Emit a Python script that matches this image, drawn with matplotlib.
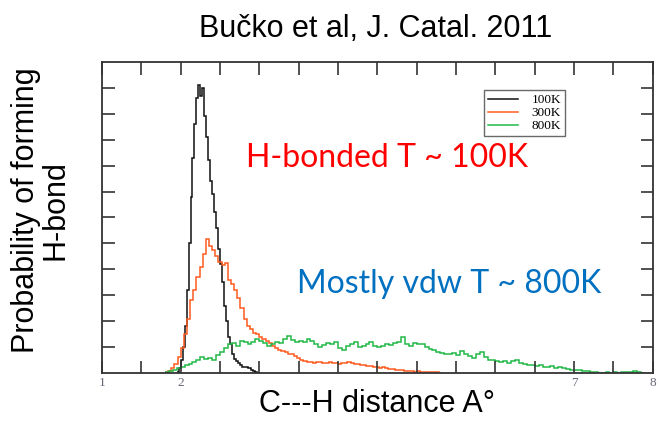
import numpy as np
import matplotlib.pyplot as plt

# C---H distance histograms (y in tick units)
black_start, black_w = 1.95, 0.025
black_vals = [0.05, 0.2, 0.5, 1.0, 1.8, 3.2, 5.0, 6.8, 8.3, 9.6, 10.6, 11.1,
              10.7, 11.0, 9.9, 9.1, 8.2, 7.4, 6.9, 6.2, 5.6, 4.8, 4.2, 3.5,
              2.6, 2.0, 1.4, 1.1, 0.75, 0.55, 0.45, 0.38, 0.3, 0.25, 0.22,
              0.25, 0.18, 0.2, 0.12, 0.08, 0.04, 0.0]

orange_start, orange_w = 1.80, 0.04
orange_vals = [0.02, 0.08, 0.2, 0.35, 0.6, 0.95, 1.5, 2.1, 2.8, 3.2, 3.7, 4.1,
               4.6, 5.15, 4.9, 4.75, 4.5, 4.3, 4.15, 4.25, 3.6, 3.45, 3.2, 2.9,
               2.5, 2.1, 1.8, 1.7, 1.55, 1.5, 1.4, 1.3, 1.25, 1.15, 1.05, 0.95,
               0.9, 0.85, 0.8, 0.75, 0.72, 0.65, 0.58, 0.5, 0.46, 0.42, 0.44,
               0.4, 0.43, 0.41, 0.38, 0.4, 0.42, 0.37, 0.39, 0.36, 0.4, 0.38,
               0.42, 0.37, 0.33, 0.35, 0.3, 0.32, 0.28, 0.26, 0.24, 0.25, 0.2,
               0.22, 0.18, 0.15, 0.14, 0.12, 0.1, 0.1, 0.08, 0.07, 0.08, 0.05,
               0.06, 0.04, 0.05, 0.03, 0.04, 0.02, 0.03, 0.0]

green_start, green_w = 1.80, 0.05
green_vals = [0.03, 0.08, 0.12, 0.18, 0.22, 0.3, 0.35, 0.42, 0.5, 0.62, 0.55,
              0.58, 0.52, 0.68, 0.8, 0.95, 1.1, 1.15, 1.05, 1.25, 1.18, 1.12,
              1.2, 1.3, 1.25, 1.15, 1.05, 1.1, 1.2, 1.15, 1.3, 1.42, 1.28, 1.2,
              1.25, 1.18, 1.32, 1.25, 1.1, 1.0, 1.08, 1.15, 1.12, 1.2, 0.95,
              0.9, 1.05, 1.12, 1.2, 1.0, 1.05, 1.1, 1.18, 1.05, 1.0, 1.05, 1.1,
              1.08, 1.15, 1.2, 1.38, 1.1, 1.05, 1.15, 1.1, 1.12, 1.0, 0.92,
              0.88, 0.82, 0.78, 0.75, 0.72, 0.78, 0.7, 0.85, 0.72, 0.65, 0.58,
              0.72, 0.82, 0.6, 0.52, 0.5, 0.45, 0.42, 0.45, 0.4, 0.48, 0.52,
              0.4, 0.35, 0.3, 0.32, 0.28, 0.3, 0.25, 0.22, 0.26, 0.2, 0.22,
              0.18, 0.15, 0.12, 0.1, 0.1, 0.08, 0.06, 0.04, 0.02, 0.0, 0.0,
              0.02, 0.0, 0.03, 0.0, 0.02, 0.04, 0.03, 0.06, 0.03, 0.0]

labels = ["100K", "300K", "800K"]
colors = ["#111111", "#ff5a1e", "#22b848"]
xtick_pos = [1, 2, 7, 8]


def edges(start, w, vals):
    return start + w * np.arange(len(vals) + 1)


fig = plt.figure(figsize=(6.58, 4.21), dpi=100)
ax = fig.add_axes([0.155, 0.114, 0.837, 0.739])

series = [(black_start, black_w, black_vals),
          (orange_start, orange_w, orange_vals),
          (green_start, green_w, green_vals)]
for (s, w, v), c, lab in zip(series, colors, labels):
    ax.stairs(v, edges(s, w, v), color=c, lw=1.1, label=lab, baseline=None)

ax.set_xlim(1, 8)
ax.set_ylim(0, 12)
ticks = np.arange(1, 8.01, 0.5)
ax.set_xticks(ticks)
ax.set_xticklabels([str(int(t)) if t in xtick_pos else "" for t in ticks],
                   family="Liberation Serif", fontsize=9.5, color="#667")
ax.set_yticks(np.arange(1, 12))
ax.set_yticklabels([])
ax.tick_params(direction="in", length=9, width=1.2, color="#333",
               top=True, right=True, pad=3)
for sp in ax.spines.values():
    sp.set_linewidth(1.3)
    sp.set_color("#333")

leg = ax.legend(loc="upper right", bbox_to_anchor=(0.853, 0.93),
                prop={"family": "Liberation Serif", "size": 9.5}, handlelength=2.3,
                frameon=True, fancybox=False, edgecolor="#444", borderpad=0.3,
                labelspacing=0.05, handletextpad=1.0)
leg.get_frame().set_linewidth(1.0)

ax.text(2.83, 8.3, "H-bonded T ~ 100K", color="#ff0000", fontsize=23,
        family="Lato", va="center", ha="left")
ax.text(3.48, 3.45, "Mostly vdw T ~ 800K", color="#0070c0", fontsize=23,
        family="Lato", va="center", ha="left")

fig.text(0.571, 0.93, "Bučko et al, J. Catal. 2011", ha="center", va="center",
         family="Liberation Sans", fontsize=22)
fig.text(0.573, 0.04, "C---H distance A°", ha="center", va="center",
         family="Liberation Sans", fontsize=22)
fig.text(0.062, 0.5, "Probability of forming\nH-bond", ha="center", va="center",
         rotation=90, family="Liberation Sans", fontsize=22, linespacing=1.0)

fig.savefig("out.png", dpi=100)
